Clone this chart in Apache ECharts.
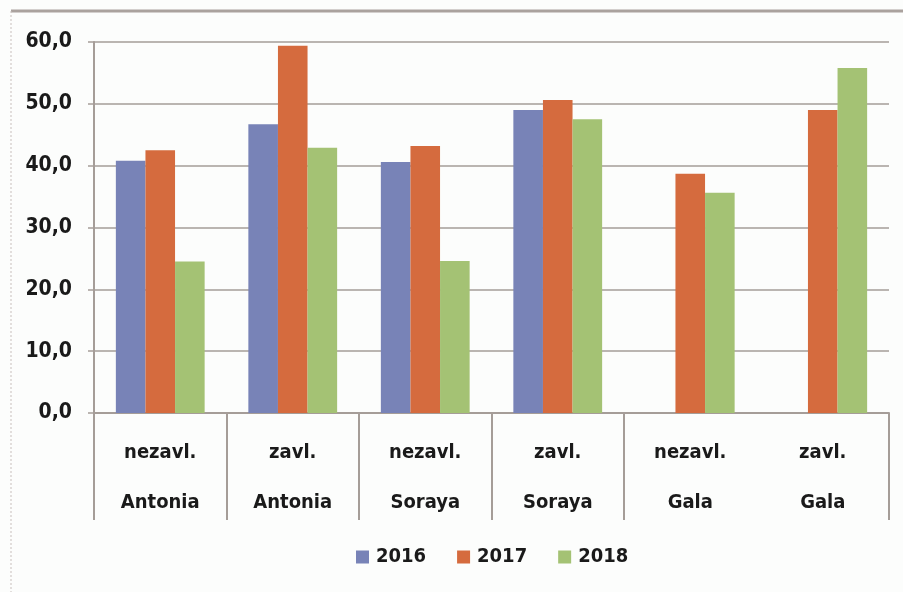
<!DOCTYPE html>
<html>
<head>
<meta charset="utf-8">
<script src="https://cdn.jsdelivr.net/npm/echarts@6/dist/echarts.min.js"></script>
<style>
html,body{margin:0;padding:0;background:#fcfdfc;}
#chart{width:903px;height:592px;}
</style>
</head>
<body>
<div id="chart"></div>
<script>
var categories = ['nezavl.\nAntonia', 'zavl.\nAntonia', 'nezavl.\nSoraya', 'zavl.\nSoraya', 'nezavl.\nGala', 'zavl.\nGala'];
var seriesNames = ['2016', '2017', '2018'];
var values2016 = [40.8, 46.7, 40.6, 49.0, null, null];
var values2017 = [42.5, 59.4, 43.2, 50.6, 38.7, 49.0];
var values2018 = [24.5, 42.9, 24.6, 47.5, 35.6, 55.8];
var yTicks = { min: 0, max: 60, interval: 10 };
var colors = ['#7883b7', '#d56b3e', '#a4c274'];

var gridColor = '#a59d98';
var fontFam = '"DejaVu Sans Condensed", "DejaVu Sans", sans-serif';
var chart = echarts.init(document.getElementById('chart'));
var dataSets = [values2016, values2017, values2018];
chart.setOption({
  backgroundColor: '#fcfdfc',
  animation: false,
  graphic: [
    { type: 'line', shape: { x1: 11, y1: 11, x2: 903, y2: 11 }, style: { stroke: '#aaa29e', lineWidth: 3 } },
    { type: 'line', shape: { x1: 11, y1: 11, x2: 11, y2: 592 }, style: { stroke: '#c8c0bc', lineWidth: 1, lineDash: [2, 2] } }
  ],
  grid: { left: 94, right: 14, top: 42, bottom: 179, containLabel: false },
  legend: {
    data: seriesNames,
    bottom: 20,
    left: 351,
    itemWidth: 13,
    itemHeight: 13,
    itemGap: 31,
    icon: 'rect',
    textStyle: { fontFamily: fontFam, fontWeight: 'bold', fontSize: 20, color: '#1a1a1a', padding: [0, 0, 0, 2] }
  },
  xAxis: {
    type: 'category',
    data: categories,
    boundaryGap: true,
    axisLine: { lineStyle: { color: gridColor, width: 2 } },
    axisTick: {
      show: true,
      length: 107,
      lineStyle: { color: gridColor, width: 2 },
      interval: function (index) { return index !== 5; }
    },
    axisLabel: {
      interval: 0,
      margin: 15,
      lineHeight: 50,
      fontFamily: fontFam,
      fontWeight: 'bold',
      fontSize: 20,
      color: '#1a1a1a'
    }
  },
  yAxis: {
    type: 'value',
    min: yTicks.min,
    max: yTicks.max,
    interval: yTicks.interval,
    axisLine: { show: true, lineStyle: { color: gridColor, width: 2 } },
    axisTick: { show: true, length: 6, lineStyle: { color: gridColor, width: 1.5 } },
    splitLine: { show: true, lineStyle: { color: gridColor, width: 1.5 } },
    axisLabel: {
      margin: 22,
      fontFamily: fontFam,
      fontWeight: 'bold',
      fontSize: 21,
      color: '#1a1a1a',
      formatter: function (v) { return v.toFixed(1).replace('.', ','); }
    }
  },
  series: seriesNames.map(function (name, i) {
    return {
      name: name,
      type: 'bar',
      data: dataSets[i],
      itemStyle: { color: colors[i] },
      barGap: '0%',
      barCategoryGap: '33%'
    };
  })
});
</script>
</body>
</html>
